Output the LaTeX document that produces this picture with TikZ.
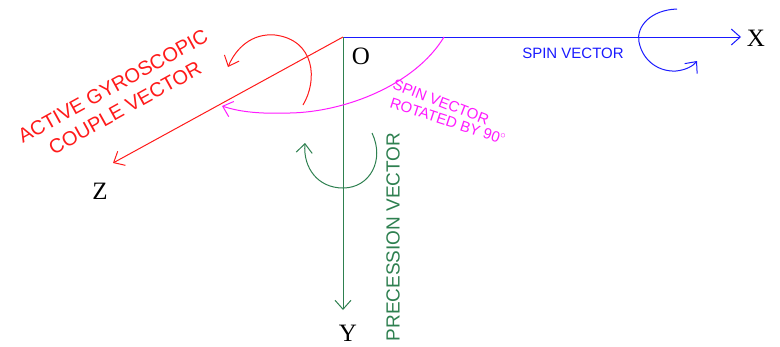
\documentclass[tikz,border=0pt]{standalone}
\usepackage{fontspec}
\setmainfont{Liberation Serif}
\setsansfont{Liberation Sans}
\usepackage{tikz}
\usetikzlibrary{arrows.meta,positioning,calc}
\usepackage{xcolor}
\definecolor{couplered}{HTML}{FF1A1A}
\definecolor{spinblue}{HTML}{1A1AFF}
\definecolor{precgreen}{HTML}{2E8050}
\definecolor{rotmagenta}{HTML}{FF1AFF}

\begin{document}
\begin{tikzpicture}[x=1pt, y=-1pt, >={Straight Barb[length=9pt,width=16pt]},
    axislabel/.style={font=\fontsize{25}{25}\selectfont, inner sep=0pt},
    vectext/.style={font=\sffamily\fontsize{#1}{#1}\selectfont, inner sep=0pt},
    vectext/.default=14]
  \useasboundingbox (0,0) rectangle (780,346);

  % axes
  \coordinate (O) at (343,37);
  \coordinate (Xtip) at (741,37);
  \coordinate (Ytip) at (343,310);
  \coordinate (Ztip) at (113,163);

  \node[axislabel] (Olab) at (361,56) {O};
  \node[axislabel] (Xlab) at (756,38) {X};
  \node[axislabel] (Ylab) at (348,333) {Y};
  \node[axislabel] (Zlab) at (100,191) {Z};

  \begin{scope}[->, line width=1pt]
    \draw[spinblue] (O) -- (Xtip);
    \draw[precgreen] (O) -- (Ytip);
    \draw[couplered] (O) -- (Ztip);
  \end{scope}

  % rotation arrows
  \begin{scope}[->, line width=1pt]
    \draw[spinblue] (677,9) .. controls (650,10) and (636,27) .. (639,42)
      .. controls (643,62) and (660,72) .. (676,71)
      .. controls (686,70) and (693,66) .. (697,61);
    \draw[precgreen] (372,133) .. controls (385,160) and (370,188) .. (343,188)
      .. controls (318,188) and (303,168) .. (305,143);
    \draw[couplered] (303,105) .. controls (318,80) and (315,40) .. (275,35)
      .. controls (252,33) and (236,48) .. (228,67);
    \draw[rotmagenta] (444,37) .. controls (415,85) and (345,112) .. (290,113)
      .. controls (260,114) and (240,112) .. (222,106);
  \end{scope}

  % labels
  \node[vectext=15, spinblue] (spin) at (573,53) {SPIN VECTOR};
  \node[vectext=19, precgreen, rotate=90] (prec) at (393,237) {PRECESSION VECTOR};
  \node[vectext=20, couplered, rotate=29, align=center] (couple) at (119,97)
    {ACTIVE GYROSCOPIC\\[5pt]COUPLE VECTOR};
  \node[vectext=15, rotmagenta, rotate=-21] (rot1) at (441,102) {SPIN VECTOR};
  \node[vectext=15, rotmagenta, rotate=-18] (rot2) at (448,121) {ROTATED BY 90$^{\circ}$};
\end{tikzpicture}
\end{document}
